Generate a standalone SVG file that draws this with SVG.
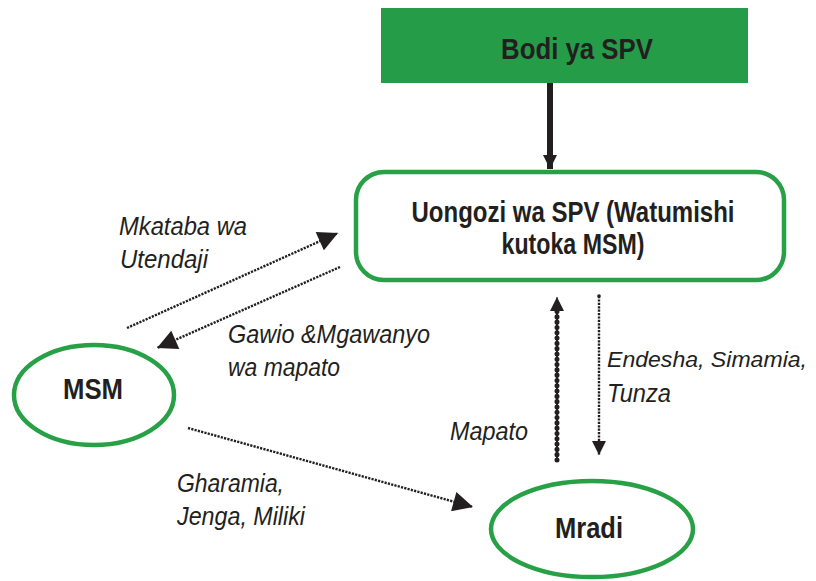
<svg xmlns="http://www.w3.org/2000/svg" width="816" height="581" viewBox="0 0 816 581">
<defs>
<style>
.bold{font-family:"Liberation Sans",Arial,sans-serif;font-weight:bold;font-size:30px;fill:#231f20;text-anchor:middle}
.lbl{font-family:"Liberation Sans",Arial,sans-serif;font-style:italic;font-size:26px;fill:#231f20}
.lbl.sm{font-size:22px}
.node{fill:#ffffff;stroke:#27a046;stroke-width:4.5}
.thin{fill:none;stroke:#231f20;stroke-width:2.4;stroke-dasharray:2.2 1.2}
</style>
<marker id="ah" viewBox="0 0 10 10" refX="10" refY="5" markerUnits="userSpaceOnUse" markerWidth="22" markerHeight="20" orient="auto">
<path d="M0,0 L10,5 L0,10 z" fill="#231f20"/>
</marker>
<marker id="ahs" viewBox="0 0 10 10" refX="10" refY="5" markerUnits="userSpaceOnUse" markerWidth="14" markerHeight="20" orient="auto">
<path d="M0,0 L10,5 L0,10 z" fill="#231f20"/>
</marker>
</defs>
<rect width="816" height="581" fill="#ffffff"/>

<g id="bodi">
<rect x="381" y="8" width="367" height="75" fill="#259c48"/>
<text class="bold" x="577" y="59" textLength="152" lengthAdjust="spacingAndGlyphs">Bodi ya SPV</text>
</g>

<g id="uongozi">
<rect class="node" x="356" y="172" width="428" height="108" rx="28" ry="28"/>
<text class="bold" x="573" y="222" textLength="323" lengthAdjust="spacingAndGlyphs">Uongozi wa SPV (Watumishi</text>
<text class="bold" x="573" y="254" textLength="143" lengthAdjust="spacingAndGlyphs">kutoka MSM)</text>
</g>

<g id="msm">
<ellipse class="node" cx="94" cy="395" rx="80" ry="50"/>
<text class="bold" x="93" y="399" textLength="60" lengthAdjust="spacingAndGlyphs">MSM</text>
</g>

<g id="mradi">
<ellipse class="node" cx="592" cy="529" rx="101" ry="48"/>
<text class="bold" x="589" y="538" textLength="68" lengthAdjust="spacingAndGlyphs">Mradi</text>
</g>

<g id="connectors">
<line x1="550" y1="83" x2="550" y2="169" stroke="#231f20" stroke-width="6" marker-end="url(#ahs)"/>
<line class="thin" x1="127" y1="328" x2="338" y2="233" marker-end="url(#ah)"/>
<line class="thin" x1="340" y1="267" x2="157" y2="348" marker-end="url(#ah)"/>
<line x1="557" y1="460" x2="557" y2="300" stroke="#231f20" stroke-width="2"/>
<line x1="557" y1="460" x2="557" y2="306" stroke="#231f20" stroke-width="5" stroke-linecap="round" stroke-dasharray="0.1 5.2"/>
<line x1="557" y1="312" x2="557" y2="297" stroke="#231f20" stroke-width="1" marker-end="url(#ahs)"/>
<line class="thin" x1="599" y1="296" x2="599" y2="455" marker-end="url(#ahs)"/>
<circle cx="599" cy="296" r="1.8" fill="#231f20"/>
<line class="thin" x1="188" y1="428" x2="473" y2="507" marker-end="url(#ah)"/>
</g>

<g id="labels">
<text class="lbl" x="119" y="235" textLength="128" lengthAdjust="spacingAndGlyphs">Mkataba wa</text>
<text class="lbl" x="120" y="268" textLength="88" lengthAdjust="spacingAndGlyphs">Utendaji</text>
<text class="lbl" x="228" y="343" textLength="202" lengthAdjust="spacingAndGlyphs">Gawio &amp;Mgawanyo</text>
<text class="lbl" x="228" y="376" textLength="112" lengthAdjust="spacingAndGlyphs">wa mapato</text>
<text class="lbl sm" x="607" y="367" textLength="200" lengthAdjust="spacingAndGlyphs">Endesha, Simamia,</text>
<text class="lbl" x="607" y="402" textLength="64" lengthAdjust="spacingAndGlyphs">Tunza</text>
<text class="lbl" x="450" y="440" textLength="78" lengthAdjust="spacingAndGlyphs">Mapato</text>
<text class="lbl" x="177" y="492" textLength="107" lengthAdjust="spacingAndGlyphs">Gharamia,</text>
<text class="lbl" x="177" y="525" textLength="128" lengthAdjust="spacingAndGlyphs">Jenga, Miliki</text>
</g>
</svg>
